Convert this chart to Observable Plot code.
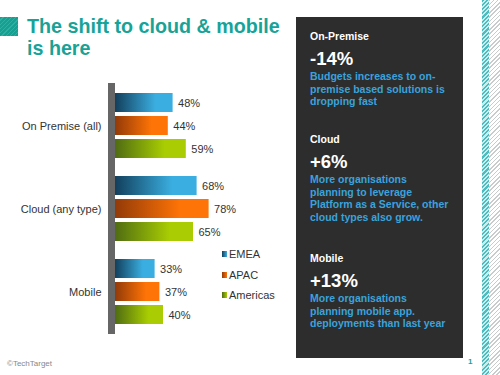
<!DOCTYPE html>
<html>
<head>
<meta charset="utf-8">
<script src="https://cdn.jsdelivr.net/npm/d3@7"></script>
<script src="https://cdn.jsdelivr.net/npm/@observablehq/plot@0.6"></script>
<style>
  html, body { margin: 0; padding: 0; background: #fff; }
  #wrap { position: relative; width: 500px; height: 375px; overflow: hidden; font-family: "Liberation Sans", Arial, sans-serif; }
  #chart { position: absolute; left: 0; top: 0; }
  .abs { position: absolute; }
  #tsq { left: 0; top: 17px; width: 18px; height: 19px;
    background: repeating-linear-gradient(135deg, #17a092 0 2px, #2fb0a3 2px 3px); }
  #title { left: 27px; top: 15px; font-weight: bold; font-size: 19.7px; line-height: 22px; color: #17a398; }
  #panel { left: 296px; top: 17px; width: 167px; height: 341px; background: #2d2d2d; }
  #panel div { position: absolute; left: 14px; font-weight: bold; white-space: nowrap; }
  .ph { color: #fff; font-size: 10.5px; }
  .pv { color: #fff; font-size: 18.5px; }
  .pt { color: #3aa3dc; font-size: 10.5px; line-height: 12.6px; }
  #stripe1 { left: 482px; top: 0; width: 7px; height: 375px;
    background: repeating-linear-gradient(135deg, #4cbcc0 0 1.5px, #c9ecec 1.5px 3px); }
  #stripe2 { left: 489px; top: 0; width: 11px; height: 375px;
    background: repeating-linear-gradient(135deg, #c8cccc 0 1px, #ffffff 1px 3px); }
  #legend { left: 222px; top: 244px; font-size: 11px; color: #333; }
  #legend .item { height: 20.5px; display: flex; align-items: center; }
  #legend .sw { width: 5px; height: 6px; margin-right: 2px; }
  #copy { left: 7px; top: 359px; font-size: 8px; color: #888; }
  #pnum { left: 468px; top: 357px; font-size: 8px; color: #17a398; font-weight: bold; }
</style>
</head>
<body>
<div id="wrap">
  <div id="chart"></div>
  <div id="tsq" class="abs"></div>
  <div id="title" class="abs">The shift to cloud &amp; mobile<br>is here</div>
  <div id="panel" class="abs"></div>
  <div id="stripe1" class="abs"></div>
  <div id="stripe2" class="abs"></div>
  <div id="legend" class="abs"></div>
  <div id="copy" class="abs">©TechTarget</div>
  <div id="pnum" class="abs">1</div>
</div>
<script>
// ---- data ----
const categories = ["On Premise (all)", "Cloud (any type)", "Mobile"];
const series = ["EMEA", "APAC", "Americas"];
const emea = [48, 68, 33];
const apac = [44, 78, 37];
const americas = [59, 65, 40];
const seriesColors = [["#123f5c", "#3aaee0"], ["#923a08", "#ff7406"], ["#4f6c12", "#a9cd02"]];

const panelHeads = ["On-Premise", "Cloud", "Mobile"];
const panelValues = ["-14%", "+6%", "+13%"];
const panelTexts = [
  ["Budgets increases to on-", "premise based solutions is", "dropping fast"],
  ["More organisations", "planning to leverage", "Platform as a Service, other", "cloud types also grow."],
  ["More organisations", "planning mobile app.", "deployments than last year"]
];

// ---- table ----
const valuesBySeries = [emea, apac, americas];
const rows = [];
categories.forEach((c, i) => {
  series.forEach((s, j) => {
    rows.push({category: c, series: s, value: valuesBySeries[j][i], fill: `url(#grad${j})`});
  });
});

const plot = Plot.plot({
  width: 500,
  height: 375,
  marginLeft: 115,
  marginRight: 265,
  marginTop: 79,
  marginBottom: 37,
  style: {fontFamily: "'Liberation Sans', Arial, sans-serif", fontSize: "11px", color: "#333", background: "transparent"},
  facet: {data: rows, y: "category"},
  fy: {domain: categories, paddingInner: 0.1, paddingOuter: 0.1, label: null, axis: "left", tickSize: 0, tickPadding: 14},
  y: {domain: series, paddingInner: 0.17, paddingOuter: 0.15, axis: null},
  x: {domain: [0, 100], axis: null},
  color: {type: "identity"},
  marks: [
    Plot.barX(rows, {x: "value", y: "series", fill: "fill"}),
    Plot.text(rows, {x: "value", y: "series", text: d => `${d.value}%`, textAnchor: "start", dx: 5, fill: "#333", fontSize: 11}),
    Plot.ruleX(rows, {x: () => 0, stroke: "#666666", strokeWidth: 7, dx: -4, insetTop: -5, insetBottom: -5})
  ]
});

const defs = d3.select(plot).insert("defs", ":first-child");
seriesColors.forEach(([a, b], j) => {
  const g = defs.append("linearGradient").attr("id", `grad${j}`).attr("x1", 0).attr("x2", 1).attr("y1", 0).attr("y2", 0);
  g.append("stop").attr("offset", 0).attr("stop-color", a);
  g.append("stop").attr("offset", 0.7).attr("stop-color", b);
  g.append("stop").attr("offset", 1).attr("stop-color", b);
});
document.getElementById("chart").appendChild(plot);

// legend
const legend = document.getElementById("legend");
series.forEach((s, j) => {
  const it = document.createElement("div");
  it.className = "item";
  it.innerHTML = `<span class="sw" style="background:linear-gradient(90deg, ${seriesColors[j][0]}, ${seriesColors[j][1]})"></span>${s}`;
  legend.appendChild(it);
});

// panel
const panel = document.getElementById("panel");
const headTops = [13, 116, 235];
headTops.forEach((t, i) => {
  const h = document.createElement("div"); h.className = "ph"; h.style.top = t + "px"; h.textContent = panelHeads[i]; panel.appendChild(h);
  const v = document.createElement("div"); v.className = "pv"; v.style.top = (t + 18) + "px"; v.textContent = panelValues[i]; panel.appendChild(v);
  const p = document.createElement("div"); p.className = "pt"; p.style.top = (t + 40) + "px"; p.innerHTML = panelTexts[i].join("<br>"); panel.appendChild(p);
});
</script>
</body>
</html>
